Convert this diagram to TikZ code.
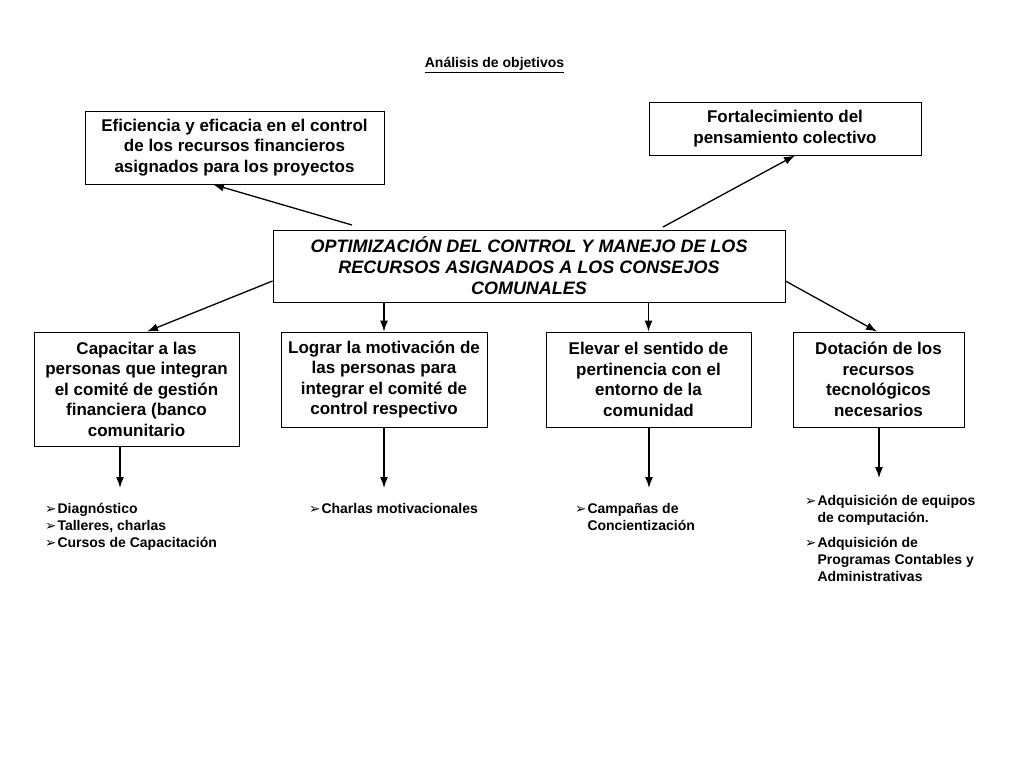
\documentclass[tikz,border=0pt]{standalone}
\usepackage{fontspec}
\usetikzlibrary{arrows.meta}
\setmainfont{Liberation Sans}
\newfontfamily\bulfont{DejaVu Sans}
\newcommand{\bul}{{\bulfont\bfseries\fontsize{13.5}{13.5}\selectfont ➢}}
\begin{document}
\begin{tikzpicture}[x=1pt, y=-1pt]
    \tikzstyle{box_style} = [draw=black, line width=0.9, inner sep=0pt, align=center, font=\bfseries\fontsize{17}{20.5}\selectfont]
    \tikzstyle{main_style} = [box_style, font=\bfseries\itshape\fontsize{18}{21}\selectfont]
    \tikzstyle{list_style} = [anchor=base west, inner sep=0pt, font=\bfseries\fontsize{14}{17}\selectfont]
    \tikzstyle{arrow_style} = [->, black, line width=1.3, >={Latex[length=11pt,width=8pt]}]

    \useasboundingbox (0,0) rectangle (1024,768);

    \node[font=\bfseries\fontsize{14}{17}\selectfont] (title) at (494.5,65) {\underline{Análisis de objetivos}};

    \node[box_style, minimum width=299, minimum height=73] (ne) at (234.5,147.5)
        {Eficiencia y eficacia en el control\\de los recursos financieros\\asignados para los proyectos};
    \node[box_style, minimum width=272, minimum height=53] (nf) at (785,128.5)
        {Fortalecimiento del\\pensamiento colectivo};
    \node[main_style, minimum width=512, minimum height=72] (nc) at (529,266)
        {OPTIMIZACIÓN DEL CONTROL Y MANEJO DE LOS\\RECURSOS ASIGNADOS A LOS CONSEJOS\\COMUNALES};

    \node[box_style, minimum width=205, minimum height=114] (n1) at (136.5,389)
        {Capacitar a las\\personas que integran\\el comité de gestión\\financiera (banco\\comunitario};
    \node[box_style, minimum width=206, minimum height=95] (n2) at (384,379.5)
        {Lograr la motivación de\\las personas para\\integrar el comité de\\control respectivo};
    \node[box_style, minimum width=205, minimum height=95] (n3) at (648.5,379.5)
        {Elevar el sentido de\\pertinencia con el\\entorno de la\\comunidad};
    \node[box_style, minimum width=171, minimum height=95] (n4) at (878.5,379.5)
        {Dotación de los\\recursos\\tecnológicos\\necesarios};

    % lists below the boxes
    \node[list_style] (l1) at (45,513) {\begin{tabular}[t]{@{}l@{\hspace{1pt}}l@{}}
        \bul & Diagnóstico\\ \bul & Talleres, charlas\\ \bul & Cursos de Capacitación\end{tabular}};
    \node[list_style] (l2) at (309,513) {\begin{tabular}[t]{@{}l@{\hspace{1pt}}l@{}}
        \bul & Charlas motivacionales\end{tabular}};
    \node[list_style] (l3) at (575,513) {\begin{tabular}[t]{@{}l@{\hspace{1pt}}l@{}}
        \bul & Campañas de\\ & Concientización\end{tabular}};
    \node[list_style] (l4) at (805,505) {\begin{tabular}[t]{@{}l@{\hspace{1pt}}l@{}}
        \bul & Adquisición de equipos\\ & de computación.\\[8pt]
        \bul & Adquisición de\\ & Programas Contables y\\ & Administrativas\end{tabular}};

    \coordinate (t1) at (352,225);
    \coordinate (t2) at (663,227);
    \coordinate (d1) at (120,488);
    \coordinate (d2) at (384,488);
    \coordinate (d3) at (649,488);
    \coordinate (d4) at (879,478);

    \draw[arrow_style] (t1) -- ([xshift=-21.5]ne.south);
    \draw[arrow_style] (t2) -- ([xshift=10]nf.south);
    \draw[arrow_style] ([yshift=-15]nc.west) -- ([xshift=10.5]n1.north);
    \draw[arrow_style] (n2.north |- nc.south) -- (n2.north);
    \draw[arrow_style] (n3.north |- nc.south) -- (n3.north);
    \draw[arrow_style] ([yshift=-15]nc.east) -- ([xshift=-1.5]n4.north);

    \draw[arrow_style] (d1 |- n1.south) -- (d1);
    \draw[arrow_style] (d2 |- n2.south) -- (d2);
    \draw[arrow_style] (d3 |- n3.south) -- (d3);
    \draw[arrow_style] (d4 |- n4.south) -- (d4);
\end{tikzpicture}
\end{document}
